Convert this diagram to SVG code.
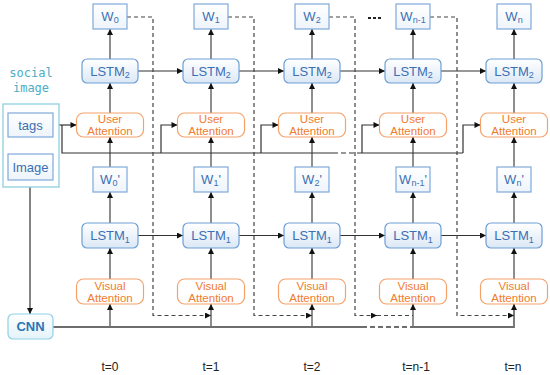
<svg xmlns="http://www.w3.org/2000/svg" width="550" height="375" viewBox="0 0 550 375">
<defs>
<linearGradient id="gb" x1="0" y1="0" x2="0" y2="1"><stop offset="0" stop-color="#ffffff"/><stop offset="1" stop-color="#dce8f6"/></linearGradient>
<linearGradient id="gw" x1="0" y1="0" x2="0" y2="1"><stop offset="0" stop-color="#ffffff"/><stop offset="1" stop-color="#eef4fb"/></linearGradient>
<linearGradient id="gc" x1="0" y1="0" x2="0" y2="1"><stop offset="0" stop-color="#ffffff"/><stop offset="1" stop-color="#e4f3f9"/></linearGradient>
<marker id="ah" viewBox="0 0 10 10" refX="10" refY="5" markerWidth="7" markerHeight="6" markerUnits="userSpaceOnUse" orient="auto"><path d="M0,0 L10,5 L0,10 z" fill="#111"/></marker>
<style>
.lstm{fill:url(#gb);stroke:#6d9fd5;stroke-width:1.2}
.wb{fill:url(#gw);stroke:#7ea9da;stroke-width:1.2}
.att{fill:#fff;stroke:#f5a26a;stroke-width:1.2}
.bt{font-family:"Liberation Sans",Arial,sans-serif;font-size:13px;fill:#3b70b3;text-anchor:middle}
.ot{font-family:"Liberation Sans",Arial,sans-serif;font-size:11.5px;fill:#f07c2e;text-anchor:middle}
.tt{font-family:"Liberation Sans",Arial,sans-serif;font-size:12px;fill:#222;text-anchor:middle}
.sub{font-size:9px}
.v{fill:none;stroke:#5e5e5e;stroke-width:1.4}
.h{fill:none;stroke:#333;stroke-width:1.2}
.d{fill:none;stroke:#444;stroke-width:1.2;stroke-dasharray:4 3}
.cn{fill:none;stroke:#6e6e6e;stroke-width:1.8}
.a{marker-end:url(#ah)}
</style>
</defs>
<rect width="550" height="375" fill="#fff"/>

<g id="connectors">
<path class="v a" d="M110,113 V83"/><path class="v a" d="M211,113 V83"/><path class="v a" d="M312,113 V83"/><path class="v a" d="M413,113 V83"/><path class="v a" d="M514,113 V83"/>
<path class="v a" d="M110,59 V29"/><path class="v a" d="M211,59 V29"/><path class="v a" d="M312,59 V29"/><path class="v a" d="M413,59 V29"/><path class="v a" d="M514,59 V29"/>
<path class="v a" d="M110,167 V137"/><path class="v a" d="M211,167 V137"/><path class="v a" d="M312,167 V137"/><path class="v a" d="M413,167 V137"/><path class="v a" d="M514,167 V137"/>
<path class="v a" d="M110,223 V192"/><path class="v a" d="M211,223 V192"/><path class="v a" d="M312,223 V192"/><path class="v a" d="M413,223 V192"/><path class="v a" d="M514,223 V192"/>
<path class="v a" d="M110,279 V248"/><path class="v a" d="M211,279 V248"/><path class="v a" d="M312,279 V248"/><path class="v a" d="M413,279 V248"/><path class="v a" d="M514,279 V248"/>
<path class="v a" d="M110,327 V304"/><path class="v a" d="M211,327 V304"/><path class="v a" d="M312,327 V304"/><path class="v a" d="M413,327 V304"/>
<path class="cn a" d="M413,327 H514 V304"/>
<path class="cn" d="M53,327 H362"/>
<path class="cn" d="M362,327 H413" stroke-dasharray="5 3"/>
<path class="h a" d="M138,71 H183"/><path class="h a" d="M239,71 H284"/><path class="h a" d="M340,71 H385"/><path class="h a" d="M441,71 H486"/>
<path class="h a" d="M138,235.5 H183"/><path class="h a" d="M239,235.5 H284"/><path class="h a" d="M340,235.5 H385"/><path class="h a" d="M441,235.5 H486"/>
<path class="h a" d="M53,125 H76.5"/>
<path class="h" d="M62,125 V153 H333"/>
<path class="h" d="M333,153 H358" stroke-dasharray="5 3"/>
<path class="h" d="M358,153 H463"/>
<path class="h a" d="M161,153 V125 H177.5"/>
<path class="h a" d="M261,153 V125 H278.5"/>
<path class="h a" d="M362,153 V125 H379.5"/>
<path class="h a" d="M463,153 V125 H480.5"/>
<path class="h a" d="M30,180 V314"/>
<path class="d a" d="M127,17 H153 V315.5 H211"/>
<path class="d a" d="M228,17 H254 V315.5 H312"/>
<path class="d a" d="M329,17 H355 V315.5 H377"/>
<path class="d" d="M377,315.5 H413"/>
<path class="d a" d="M430,17 H457 V315.5 H514"/>
<path d="M368,18 H382" fill="none" stroke="#222" stroke-width="2" stroke-dasharray="3 2"/>
</g>

<g id="social-image">
<rect x="3" y="104" width="56" height="83" fill="#fff" stroke="#8fd0de" stroke-width="1.3"/>
<text x="31" y="77" font-family="'DejaVu Sans Mono','Liberation Mono',monospace" font-size="12px" fill="#4aaec6" text-anchor="middle">social</text>
<text x="31" y="92" font-family="'DejaVu Sans Mono','Liberation Mono',monospace" font-size="12px" fill="#4aaec6" text-anchor="middle">image</text>
</g>
<g id="tags"><rect class="wb" x="8" y="113" width="45" height="24"/><text class="bt" x="30.5" y="129.5">tags</text></g>
<g id="image"><rect class="wb" x="8" y="154" width="45" height="26"/><text class="bt" x="30.5" y="171.5">Image</text></g>
<g id="cnn"><rect x="8" y="314" width="45" height="25" rx="5" fill="url(#gc)" stroke="#8fd0e6" stroke-width="1.2"/><text class="bt" x="30.5" y="331" font-weight="bold" style="fill:#2e75b6">CNN</text></g>

<g id="w0"><rect class="wb" x="93" y="4" width="34" height="25"/><text class="bt" x="110" y="21">W<tspan class="sub" dy="2">0</tspan></text></g>
<g id="lstm2-0"><rect class="lstm" x="82" y="59" width="56" height="24" rx="5"/><text class="bt" x="110" y="75.5">LSTM<tspan class="sub" dy="2.5">2</tspan></text></g>
<g id="ua0"><rect class="att" x="76.5" y="113" width="67" height="24" rx="7"/><text class="ot" x="110" y="123">User</text><text class="ot" x="110" y="135">Attention</text></g>
<g id="wp0"><rect class="wb" x="93" y="167" width="34" height="25"/><text class="bt" x="110" y="184">W<tspan class="sub" dy="2">0</tspan><tspan dy="-2">'</tspan></text></g>
<g id="lstm1-0"><rect class="lstm" x="82" y="223" width="56" height="25" rx="5"/><text class="bt" x="110" y="240">LSTM<tspan class="sub" dy="2.5">1</tspan></text></g>
<g id="va0"><rect class="att" x="76.5" y="279" width="67" height="25" rx="7"/><text class="ot" x="110" y="289.5">Visual</text><text class="ot" x="110" y="302">Attention</text></g>

<g id="w1"><rect class="wb" x="194" y="4" width="34" height="25"/><text class="bt" x="211" y="21">W<tspan class="sub" dy="2">1</tspan></text></g>
<g id="lstm2-1"><rect class="lstm" x="183" y="59" width="56" height="24" rx="5"/><text class="bt" x="211" y="75.5">LSTM<tspan class="sub" dy="2.5">2</tspan></text></g>
<g id="ua1"><rect class="att" x="177.5" y="113" width="67" height="24" rx="7"/><text class="ot" x="211" y="123">User</text><text class="ot" x="211" y="135">Attention</text></g>
<g id="wp1"><rect class="wb" x="194" y="167" width="34" height="25"/><text class="bt" x="211" y="184">W<tspan class="sub" dy="2">1</tspan><tspan dy="-2">'</tspan></text></g>
<g id="lstm1-1"><rect class="lstm" x="183" y="223" width="56" height="25" rx="5"/><text class="bt" x="211" y="240">LSTM<tspan class="sub" dy="2.5">1</tspan></text></g>
<g id="va1"><rect class="att" x="177.5" y="279" width="67" height="25" rx="7"/><text class="ot" x="211" y="289.5">Visual</text><text class="ot" x="211" y="302">Attention</text></g>

<g id="w2"><rect class="wb" x="295" y="4" width="34" height="25"/><text class="bt" x="312" y="21">W<tspan class="sub" dy="2">2</tspan></text></g>
<g id="lstm2-2"><rect class="lstm" x="284" y="59" width="56" height="24" rx="5"/><text class="bt" x="312" y="75.5">LSTM<tspan class="sub" dy="2.5">2</tspan></text></g>
<g id="ua2"><rect class="att" x="278.5" y="113" width="67" height="24" rx="7"/><text class="ot" x="312" y="123">User</text><text class="ot" x="312" y="135">Attention</text></g>
<g id="wp2"><rect class="wb" x="295" y="167" width="34" height="25"/><text class="bt" x="312" y="184">W<tspan class="sub" dy="2">2</tspan><tspan dy="-2">'</tspan></text></g>
<g id="lstm1-2"><rect class="lstm" x="284" y="223" width="56" height="25" rx="5"/><text class="bt" x="312" y="240">LSTM<tspan class="sub" dy="2.5">1</tspan></text></g>
<g id="va2"><rect class="att" x="278.5" y="279" width="67" height="25" rx="7"/><text class="ot" x="312" y="289.5">Visual</text><text class="ot" x="312" y="302">Attention</text></g>

<g id="wn1"><rect class="wb" x="396" y="4" width="34" height="25"/><text class="bt" x="413" y="21">W<tspan class="sub" dy="2">n-1</tspan></text></g>
<g id="lstm2-3"><rect class="lstm" x="385" y="59" width="56" height="24" rx="5"/><text class="bt" x="413" y="75.5">LSTM<tspan class="sub" dy="2.5">2</tspan></text></g>
<g id="ua3"><rect class="att" x="379.5" y="113" width="67" height="24" rx="7"/><text class="ot" x="413" y="123">User</text><text class="ot" x="413" y="135">Attention</text></g>
<g id="wpn1"><rect class="wb" x="396" y="167" width="34" height="25"/><text class="bt" x="413" y="184">W<tspan class="sub" dy="2">n-1</tspan><tspan dy="-2">'</tspan></text></g>
<g id="lstm1-3"><rect class="lstm" x="385" y="223" width="56" height="25" rx="5"/><text class="bt" x="413" y="240">LSTM<tspan class="sub" dy="2.5">1</tspan></text></g>
<g id="va3"><rect class="att" x="379.5" y="279" width="67" height="25" rx="7"/><text class="ot" x="413" y="289.5">Visual</text><text class="ot" x="413" y="302">Attention</text></g>

<g id="wn"><rect class="wb" x="497" y="4" width="34" height="25"/><text class="bt" x="514" y="21">W<tspan class="sub" dy="2">n</tspan></text></g>
<g id="lstm2-4"><rect class="lstm" x="486" y="59" width="56" height="24" rx="5"/><text class="bt" x="514" y="75.5">LSTM<tspan class="sub" dy="2.5">2</tspan></text></g>
<g id="ua4"><rect class="att" x="480.5" y="113" width="67" height="24" rx="7"/><text class="ot" x="514" y="123">User</text><text class="ot" x="514" y="135">Attention</text></g>
<g id="wpn"><rect class="wb" x="497" y="167" width="34" height="25"/><text class="bt" x="514" y="184">W<tspan class="sub" dy="2">n</tspan><tspan dy="-2">'</tspan></text></g>
<g id="lstm1-4"><rect class="lstm" x="486" y="223" width="56" height="25" rx="5"/><text class="bt" x="514" y="240">LSTM<tspan class="sub" dy="2.5">1</tspan></text></g>
<g id="va4"><rect class="att" x="480.5" y="279" width="67" height="25" rx="7"/><text class="ot" x="514" y="289.5">Visual</text><text class="ot" x="514" y="302">Attention</text></g>

<g id="time-labels">
<text class="tt" x="110" y="371">t=0</text>
<text class="tt" x="211" y="371">t=1</text>
<text class="tt" x="312" y="371">t=2</text>
<text class="tt" x="416" y="371">t=n-1</text>
<text class="tt" x="513" y="371">t=n</text>
</g>
</svg>
